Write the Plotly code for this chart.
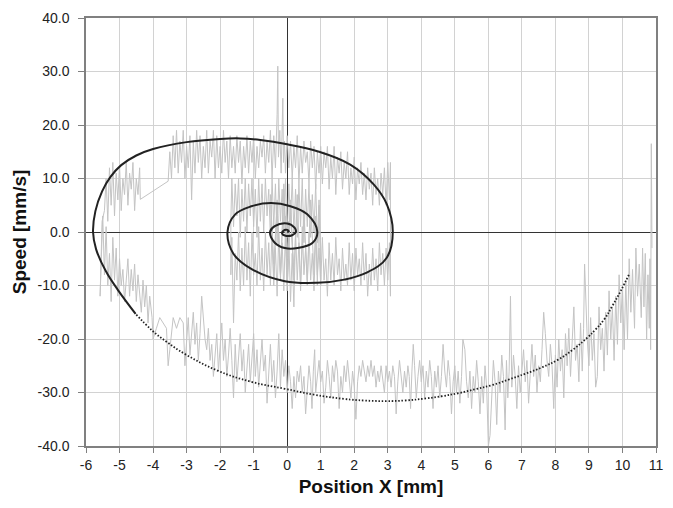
import plotly.graph_objects as go

# ---- Model trajectory (black spiral) ----
model_fast = [  # outer part, drawn dotted
    (10.19, -8.0), (9.95, -11.0), (9.7, -13.8), (9.46, -16.3), (9.2, -18.2), (8.96, -19.7),
    (8.5, -22.1), (8.07, -23.9), (7.6, -25.3), (7.1, -26.5), (6.6, -27.6), (6.12, -28.6),
    (5.6, -29.4), (5.13, -30.1), (4.6, -30.7), (4.15, -31.1), (3.5, -31.5), (2.97, -31.6),
    (2.3, -31.5), (1.7, -31.2), (0.8, -30.4), (-0.07, -29.3), (-1.07, -28.0), (-2.08, -25.9),
    (-3.05, -22.8), (-3.6, -20.5), (-4.03, -18.4), (-4.52, -15.3),
]
model_slow = [  # inner part, drawn solid
    (-4.52, -15.3), (-5.03, -11.0), (-5.41, -7.3), (-5.7, -3.2), (-5.79, 0.0), (-5.72, 3.9),
    (-5.52, 7.6), (-5.27, 10.3), (-4.95, 12.5), (-4.5, 14.3), (-4.0, 15.5), (-3.0, 16.8),
    (-2.0, 17.4), (-1.4, 17.5), (-0.8, 17.2), (0.0, 16.4), (0.9, 15.1), (1.88, 12.6), (2.58, 8.9),
    (2.97, 5.2), (3.15, 0.0), (2.97, -4.8), (2.37, -7.6), (1.7, -8.9), (0.9, -9.5), (-0.07, -9.2),
    (-1.07, -6.9), (-1.6, -4.1), (-1.78, 0.0), (-1.55, 3.3), (-1.07, 4.8), (-0.48, 5.4),
    (0.1, 4.8), (0.6, 3.3), (0.9, 0.0), (0.76, -2.0), (0.31, -3.0), (-0.07, -3.0), (-0.37, -2.0),
    (-0.51, 0.0), (-0.37, 1.1), (0.0, 1.6), (0.22, 0.8), (0.26, 0.0), (0.15, -0.6), (-0.05, -0.7),
    (-0.15, -0.3), (-0.12, 0.2), (0.0, 0.4), (0.05, 0.1), (0.0, 0.0),
]

meas_right = [
    (10.88, -3), (10.86, 16.5), (10.84, -22), (10.82, -5), (10.8, -18), (10.76, -8), (10.72, -20),
    (10.68, -4), (10.64, -14), (10.6, -3), (10.56, -16), (10.5, -6), (10.45, -12), (10.4, -3),
    (10.36, -18), (10.3, -7), (10.25, -15), (10.2, -5), (10.15, -20), (10.1, -9), (10.05, -22),
    (10.0, -10), (9.95, -17), (9.9, -8), (9.85, -21), (9.8, -12), (9.75, -24), (9.7, -14),
    (9.65, -20), (9.6, -11), (9.55, -23), (9.5, -15), (9.45, -26), (9.4, -18),
]
meas_bottom_right = [
    (9.35, -22), (9.3, -14), (9.25, -27), (9.2, -29), (9.15, -19), (9.1, -24), (9.05, -16), (9.0, -25),
    (8.95, -20), (8.9, -13), (8.87, -6), (8.84, -18), (8.8, -26), (8.75, -17), (8.7, -28), (8.65, -21),
    (8.6, -24), (8.55, -14), (8.5, -22), (8.45, -27), (8.4, -18), (8.35, -25), (8.3, -19), (8.25, -31),
    (8.2, -22), (8.15, -26), (8.1, -20), (8.05, -29), (8.0, -23), (7.95, -33), (7.9, -25), (7.85, -21),
    (7.8, -27), (7.75, -24), (7.7, -19), (7.65, -15), (7.6, -22), (7.55, -28), (7.5, -25), (7.45, -30),
    (7.4, -23), (7.35, -27), (7.3, -21), (7.25, -26), (7.2, -32), (7.15, -24), (7.1, -28), (7.05, -22),
    (7.0, -26), (6.95, -30), (6.9, -25), (6.85, -33), (6.8, -27), (6.75, -23), (6.7, -29), (6.66, -12),
    (6.62, -26), (6.58, -31), (6.54, -24), (6.5, -37), (6.45, -27), (6.4, -23), (6.35, -30), (6.3, -26),
    (6.25, -36), (6.2, -28), (6.15, -24), (6.1, -31), (6.05, -38), (6.0, -40), (5.95, -29), (5.9, -25),
    (5.85, -32), (5.8, -27), (5.75, -34), (5.7, -28), (5.65, -24), (5.6, -30), (5.55, -27), (5.5, -33),
    (5.45, -26), (5.4, -31), (5.35, -28), (5.3, -22), (5.24, -20), (5.2, -27), (5.15, -32), (5.1, -26),
    (5.05, -30), (5.0, -25), (4.95, -28), (4.9, -34), (4.85, -27), (4.8, -24), (4.75, -29), (4.7, -26),
    (4.65, -21), (4.6, -27), (4.55, -31), (4.5, -25), (4.45, -29), (4.4, -26), (4.35, -33), (4.3, -27),
    (4.25, -24), (4.2, -29), (4.15, -26), (4.1, -31), (4.05, -25),
]
meas_bottom_mid = [
    (4.0, -28), (3.95, -24), (3.9, -27), (3.85, -31), (3.8, -25), (3.76, -21), (3.72, -26), (3.68, -33),
    (3.64, -27), (3.6, -25), (3.55, -29), (3.5, -26), (3.45, -30), (3.4, -27), (3.35, -24), (3.3, -28),
    (3.25, -34), (3.2, -27), (3.15, -25), (3.1, -29), (3.05, -26), (3.0, -28), (2.95, -25), (2.9, -30),
    (2.85, -27), (2.8, -25), (2.75, -28), (2.7, -26), (2.65, -29), (2.6, -25), (2.55, -27), (2.5, -24),
    (2.45, -27), (2.4, -25), (2.35, -28), (2.3, -26), (2.25, -24), (2.2, -27), (2.15, -25), (2.1, -28),
    (2.05, -35), (2.0, -29), (1.95, -26), (1.9, -31), (1.85, -27), (1.8, -24), (1.75, -28), (1.7, -25),
    (1.65, -30), (1.6, -27), (1.55, -33), (1.5, -26), (1.45, -24), (1.4, -28), (1.35, -25), (1.3, -31),
    (1.25, -27), (1.2, -24), (1.15, -29), (1.1, -32), (1.05, -26), (1.0, -28), (0.95, -24), (0.9, -27),
    (0.85, -30), (0.82, -22), (0.78, -26), (0.74, -33), (0.7, -28), (0.65, -25), (0.6, -29), (0.55, -34),
    (0.5, -27), (0.45, -30), (0.4, -25), (0.35, -28), (0.3, -26), (0.25, -31), (0.2, -27), (0.15, -33),
    (0.1, -28), (0.05, -25), (0.0, -30), (-0.05, -24), (-0.1, -27),
]
meas_bottom_left = [
    (-0.15, -22), (-0.2, -29), (-0.25, -19), (-0.3, -26), (-0.35, -31), (-0.4, -24), (-0.45, -28),
    (-0.5, -21), (-0.55, -27), (-0.6, -32), (-0.65, -23), (-0.7, -26), (-0.75, -20), (-0.8, -25),
    (-0.85, -29), (-0.9, -22), (-0.95, -27), (-1.0, -19), (-1.05, -24), (-1.1, -28), (-1.15, -21),
    (-1.2, -25), (-1.25, -30), (-1.3, -22), (-1.35, -26), (-1.4, -19), (-1.45, -24), (-1.5, -28),
    (-1.55, -21), (-1.6, -31), (-1.65, -24), (-1.7, -18), (-1.75, -23), (-1.8, -27), (-1.85, -20),
    (-1.9, -24), (-1.95, -17), (-2.0, -22), (-2.05, -26), (-2.1, -19), (-2.15, -23), (-2.2, -27),
    (-2.25, -21), (-2.3, -24), (-2.35, -18), (-2.4, -22), (-2.45, -20), (-2.5, -16), (-2.55, -12),
    (-2.6, -19), (-2.65, -24), (-2.7, -17), (-2.75, -21), (-2.8, -15), (-2.85, -19), (-2.9, -23),
    (-2.95, -16), (-3.0, -20), (-3.05, -25), (-3.1, -17), (-3.2, -16), (-3.3, -18), (-3.4, -16),
    (-3.5, -22), (-3.55, -25), (-3.6, -18), (-3.7, -17), (-3.8, -16), (-3.9, -18), (-4.0, -20),
    (-4.03, -16),
]
meas_left = [
    (-4.1, -12), (-4.15, -17), (-4.2, -10), (-4.25, -14), (-4.3, -9), (-4.35, -15), (-4.4, -11),
    (-4.45, -8), (-4.5, -13), (-4.55, -6), (-4.6, -11), (-4.65, -7), (-4.7, -12), (-4.75, -5),
    (-4.8, -9), (-4.85, -13), (-4.9, -7), (-4.95, -10), (-5.0, -5), (-5.05, -12), (-5.1, -3),
    (-5.15, -9), (-5.2, -1), (-5.25, -13), (-5.3, -4), (-5.35, -10), (-5.4, 1), (-5.45, -8),
    (-5.5, 3), (-5.55, -6), (-5.58, -12), (-5.52, 2), (-5.45, 4), (-5.4, 10), (-5.35, 2),
    (-5.3, 12), (-5.25, 5), (-5.2, 13), (-5.15, 3), (-5.1, 11), (-5.05, 6), (-5.0, 12.5),
    (-4.95, 4), (-4.9, 10), (-4.85, 7), (-4.8, 13), (-4.75, 5), (-4.7, 11), (-4.65, 8), (-4.6, 13),
    (-4.55, 4), (-4.5, 10), (-4.45, 7), (-4.4, 12), (-4.38, 6.1), (-3.55, 9.5),
]
meas_top = [
    (-3.5, 15), (-3.45, 10), (-3.4, 18), (-3.35, 12), (-3.3, 19), (-3.25, 11), (-3.2, 17), (-3.15, 13),
    (-3.1, 19), (-3.05, 10), (-3.0, 16), (-2.95, 12), (-2.9, 18), (-2.85, 6), (-2.8, 17), (-2.75, 11),
    (-2.7, 19), (-2.65, 13), (-2.6, 18), (-2.55, 10), (-2.5, 16), (-2.45, 12), (-2.4, 19), (-2.35, 11),
    (-2.3, 17), (-2.25, 14), (-2.2, 19), (-2.15, 10), (-2.1, 18), (-2.05, 12), (-2.0, 16), (-1.95, 11),
    (-1.9, 19), (-1.85, 13), (-1.8, 17), (-1.75, 10), (-1.7, 18), (-1.65, 12), (-1.6, 16), (-1.55, 11),
    (-1.5, 18), (-1.45, 13), (-1.4, 17), (-1.35, 9), (-1.3, 16), (-1.25, 12), (-1.2, 18), (-1.15, 11),
    (-1.1, 17), (-1.05, 13), (-1.0, 18), (-0.95, 10), (-0.9, 16), (-0.85, 12), (-0.8, 17), (-0.75, 14),
    (-0.7, 18), (-0.65, 11), (-0.6, 17), (-0.55, 13), (-0.5, 19), (-0.45, 10), (-0.4, 18), (-0.35, 12),
    (-0.3, 22), (-0.28, 31), (-0.26, 14), (-0.22, 19), (-0.18, 11), (-0.15, 21), (-0.13, 25),
    (-0.11, 13), (-0.08, 17), (-0.05, 11), (0.0, 18), (0.05, 12), (0.1, 17), (0.15, 10), (0.2, 16),
    (0.25, 12), (0.3, 18), (0.35, 9), (0.4, 16), (0.45, 11), (0.5, 17), (0.55, 13), (0.6, 15),
    (0.65, 9), (0.7, 17), (0.75, 12), (0.8, 16), (0.85, 8), (0.9, 15), (0.95, 11), (1.0, 16),
    (1.05, 9), (1.1, 15), (1.15, 12), (1.2, 16), (1.25, 8), (1.3, 14), (1.35, 10), (1.4, 16),
    (1.45, 7), (1.5, 14), (1.55, 11), (1.6, 15), (1.65, 8), (1.7, 13), (1.75, 10), (1.8, 15),
    (1.85, 7), (1.9, 12), (1.95, 9), (2.0, 14), (2.05, 6), (2.1, 12), (2.15, 9), (2.2, 13), (2.25, 7),
    (2.3, 11), (2.35, 6), (2.4, 12), (2.45, 8), (2.5, 11), (2.55, 5), (2.6, 12), (2.65, 7), (2.7, 10),
    (2.75, 5), (2.8, 11), (2.85, 7), (2.9, 12), (2.95, 5), (3.0, 13), (3.05, 6), (3.08, 13),
]
meas_inner_low = [
    (3.08, -12), (3.05, -2), (3.0, -9), (2.95, -3), (2.9, -10), (2.85, -4), (2.8, -8), (2.75, -2),
    (2.7, -11), (2.65, -5), (2.6, -9), (2.55, -3), (2.5, -10), (2.45, -6), (2.4, -12), (2.35, -4),
    (2.3, -9), (2.25, -2), (2.2, -10), (2.15, -5), (2.1, -8), (2.05, -3), (2.0, -11), (1.95, -4),
    (1.9, -9), (1.85, -2), (1.8, -10), (1.75, -6), (1.7, -9), (1.65, -3), (1.6, -11), (1.55, -5),
    (1.5, -8), (1.45, -1), (1.4, -10), (1.35, -4), (1.3, -9), (1.25, -2), (1.2, -12), (1.15, -5),
    (1.1, -9), (1.05, -1), (1.0, -10), (0.95, -3), (0.9, -8), (0.85, -1), (0.8, -11), (0.75, -4),
    (0.7, -9), (0.65, 0), (0.6, -10), (0.55, -3), (0.5, -8), (0.45, 1), (0.4, -11), (0.35, -2),
    (0.3, -9), (0.25, 0), (0.2, -14), (0.15, -4), (0.1, -13), (0.05, -1), (0.0, -9), (-0.05, 1),
    (-0.1, -11), (-0.15, -2), (-0.2, -8), (-0.25, 0), (-0.3, -12), (-0.35, -3), (-0.4, -9),
    (-0.45, 1), (-0.5, -10), (-0.55, -2), (-0.6, -8), (-0.65, 0), (-0.7, -11), (-0.75, -3),
    (-0.8, -9), (-0.85, 1), (-0.9, -10), (-0.95, -4), (-1.0, -8), (-1.05, 0), (-1.1, -12),
    (-1.15, -2), (-1.2, -9), (-1.25, 1), (-1.3, -10), (-1.35, -3), (-1.4, -11), (-1.45, 0),
    (-1.5, -9), (-1.55, -4), (-1.6, -17), (-1.65, -1), (-1.68, -8),
]
meas_inner_high = [
    (-1.68, 2), (-1.65, 10), (-1.6, 1), (-1.55, 9), (-1.5, 3), (-1.45, 10), (-1.4, -1), (-1.35, 8),
    (-1.3, 2), (-1.25, 10), (-1.2, 0), (-1.15, 9), (-1.1, 3), (-1.05, 10), (-1.0, 1), (-0.95, 8),
    (-0.9, -1), (-0.85, 10), (-0.8, 2), (-0.75, 9), (-0.7, 0), (-0.65, 10), (-0.6, 3), (-0.55, 8),
    (-0.5, -1), (-0.45, 10), (-0.4, 1), (-0.35, 9), (-0.3, -2), (-0.25, 10), (-0.2, 2), (-0.15, 8),
    (-0.1, 0), (-0.05, 10), (0.0, -1), (0.05, 9), (0.1, 2), (0.15, 10), (0.2, 0), (0.25, 8),
    (0.3, -1), (0.35, 9), (0.4, 1), (0.45, 10), (0.5, -2), (0.55, 8), (0.6, 1), (0.65, 9),
    (0.7, -1), (0.75, 7), (0.8, 0), (0.85, 9), (0.9, -2), (0.95, 6), (1.0, -3),
]
meas_center = [
    (1.0, -9), (0.95, 5), (0.9, -10), (0.85, 3), (0.8, -8), (0.7, 6), (0.6, -9), (0.5, 4),
    (0.4, -10), (0.3, 7), (0.2, -8), (0.1, 5), (0.0, -11), (-0.1, 8), (-0.2, -9), (-0.3, 6),
    (-0.4, -10), (-0.5, 7), (-0.4, -6), (-0.3, 5), (-0.2, -8), (-0.1, 9), (0.0, -7), (0.1, 6),
    (0.2, -9), (0.1, 4), (0.0, -10), (-0.05, 3), (0.0, -5), (0.05, 2), (0.0, 0),
]

measured = (meas_right + meas_bottom_right + meas_bottom_mid + meas_bottom_left + meas_left
            + meas_top + meas_inner_low + meas_inner_high + meas_center)

x_ticks = list(range(-6, 12))
y_ticks = list(range(-40, 41, 10))

fig = go.Figure()
fig.add_trace(go.Scatter(
    x=[p[0] for p in measured], y=[p[1] for p in measured], mode="lines",
    line=dict(color="#c4c4c4", width=1), hoverinfo="skip", showlegend=False))
fig.add_trace(go.Scatter(
    x=[p[0] for p in model_fast], y=[p[1] for p in model_fast], mode="lines",
    line=dict(color="#222222", width=1.8, dash="1.5px,1.8px", shape="spline", smoothing=1.2),
    showlegend=False))
fig.add_trace(go.Scatter(
    x=[p[0] for p in model_slow], y=[p[1] for p in model_slow], mode="lines",
    line=dict(color="#222222", width=2, shape="spline", smoothing=1.1),
    showlegend=False))

FONT = "Liberation Sans, Arial, sans-serif"
tick_font = dict(family=FONT, size=14, color="#222")
title_font = dict(family=FONT, size=19, color="#111")
fig.update_layout(
    width=673, height=508,
    margin=dict(l=86, r=10, t=16, b=62),
    paper_bgcolor="white", plot_bgcolor="white",
    font=tick_font,
)
fig.update_xaxes(
    range=[-6, 11], tickmode="array", tickvals=x_ticks, ticktext=[str(v) for v in x_ticks],
    showgrid=True, gridcolor="#d2d2d2", gridwidth=1,
    zeroline=True, zerolinecolor="#333333", zerolinewidth=1,
    showline=True, linecolor="#808080", linewidth=1.5, mirror=True,
    ticks="outside", ticklen=5, tickcolor="#808080",
    tickfont=tick_font,
    title=dict(text="<b>Position X [mm]</b>", font=title_font, standoff=8),
)
fig.update_yaxes(
    range=[-40, 40], tickmode="array", tickvals=y_ticks, ticktext=[f"{v:.1f}" for v in y_ticks],
    showgrid=True, gridcolor="#d2d2d2", gridwidth=1,
    zeroline=True, zerolinecolor="#333333", zerolinewidth=1,
    showline=True, linecolor="#808080", linewidth=1.5, mirror=True,
    ticks="outside", ticklen=6, tickcolor="#808080", ticklabelstandoff=6,
    tickfont=tick_font,
    title=dict(text="<b>Speed [mm/s]</b>", font=title_font, standoff=6),
)

fig.write_html("out.html")
